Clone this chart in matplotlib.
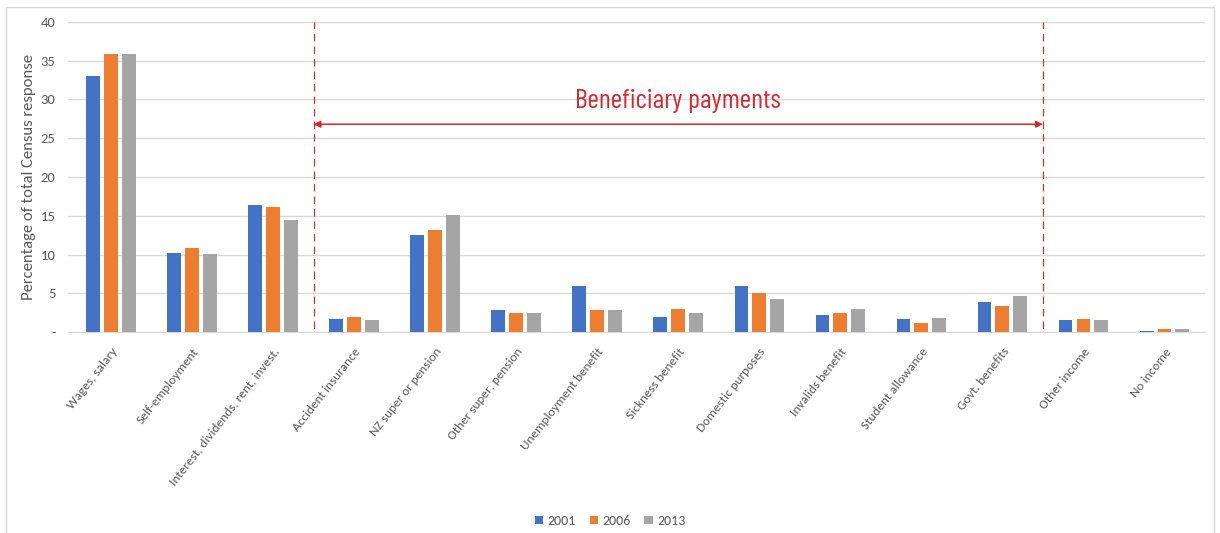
import matplotlib.pyplot as plt
import numpy as np

plt.rcParams['font.family'] = ['Carlito', 'Lato', 'DejaVu Sans']

categories = [
    "Wages, salary", "Self-employment", "Interest, dividends, rent, invest.",
    "Accident insurance", "NZ super or pension", "Other super, pension",
    "Unemployment benefit", "Sickness benefit", "Domestic purposes",
    "Invalids benefit", "Student allowance", "Govt. benefits",
    "Other income", "No income",
]
years = ["2001", "2006", "2013"]
v2001 = [33.0, 10.2, 16.4, 1.7, 12.5, 2.8, 6.0, 2.0, 5.9, 2.2, 1.7, 3.9, 1.5, 0.2]
v2006 = [35.9, 10.9, 16.1, 1.9, 13.2, 2.5, 2.8, 3.0, 5.1, 2.5, 1.2, 3.3, 1.7, 0.35]
v2013 = [35.9, 10.1, 14.5, 1.5, 15.1, 2.5, 2.8, 2.5, 4.3, 3.0, 1.8, 4.7, 1.5, 0.35]
yticks = [0, 5, 10, 15, 20, 25, 30, 35, 40]
ytick_labels = ["-", "5", "10", "15", "20", "25", "30", "35", "40"]

colors = ["#4472C4", "#ED7D31", "#A5A5A5"]
red = "#D42A2F"

fig = plt.figure(figsize=(12.2, 5.33), dpi=100)
ax = fig.add_axes([0.0557, 0.377, 0.932, 0.582])

x = np.arange(len(categories))
width = 0.17
pitch = 0.22
for i, (vals, yr) in enumerate(zip([v2001, v2006, v2013], years)):
    ax.bar(x + (i - 1) * pitch, vals, width, color=colors[i], label=yr, zorder=3)

ax.set_xlim(-0.53, 13.5)
ax.set_ylim(0, 40)
ax.set_yticks(yticks)
ax.set_yticklabels(ytick_labels)
ax.grid(axis="y", color="#D9D9D9", linewidth=1, zorder=0)
for s in ["top", "right", "left"]:
    ax.spines[s].set_visible(False)
ax.spines["bottom"].set_color("#D9D9D9")
ax.tick_params(axis="both", length=0, colors="#595959", labelsize=10.5)
ax.tick_params(axis="y", pad=9)

ax.set_xticks(x)
ax.set_xticklabels(categories, rotation=52, ha="right", rotation_mode="anchor",
                   fontsize=9.5)
ax.tick_params(axis="x", pad=10)
ax.set_ylabel("Percentage of total Census response", color="#595959", fontsize=12,
              labelpad=3)

# beneficiary payments bracket
for xv in [2.5, 11.5]:
    ax.axvline(xv, color="#C0392B", linestyle=(0, (6, 4)), linewidth=0.9, zorder=4,
               ymin=-0.03, ymax=1)
ax.annotate("", xy=(2.5, 26.8), xytext=(11.5, 26.8),
            arrowprops=dict(arrowstyle="<|-|>", color=red, lw=1.1,
                            mutation_scale=10, shrinkA=0, shrinkB=0), zorder=5)
ax.text(7.0, 28.9, "Beneficiary payments", color=red, fontsize=20,
        family=["Barlow Condensed", "Carlito"],
        ha="center", va="baseline", zorder=5)

fig.legend(loc="lower center", bbox_to_anchor=(0.5, -0.012), ncol=3, frameon=False,
           fontsize=10, handlelength=0.6, handleheight=0.6, handletextpad=0.3,
           columnspacing=1.0, labelcolor="#595959")

# outer chart border
fig.patches.append(plt.Rectangle((0.005, -0.01), 0.99, 0.997, transform=fig.transFigure,
                                 fill=False, edgecolor="#D9D9D9", linewidth=1))

fig.savefig("out.png", dpi=100)
